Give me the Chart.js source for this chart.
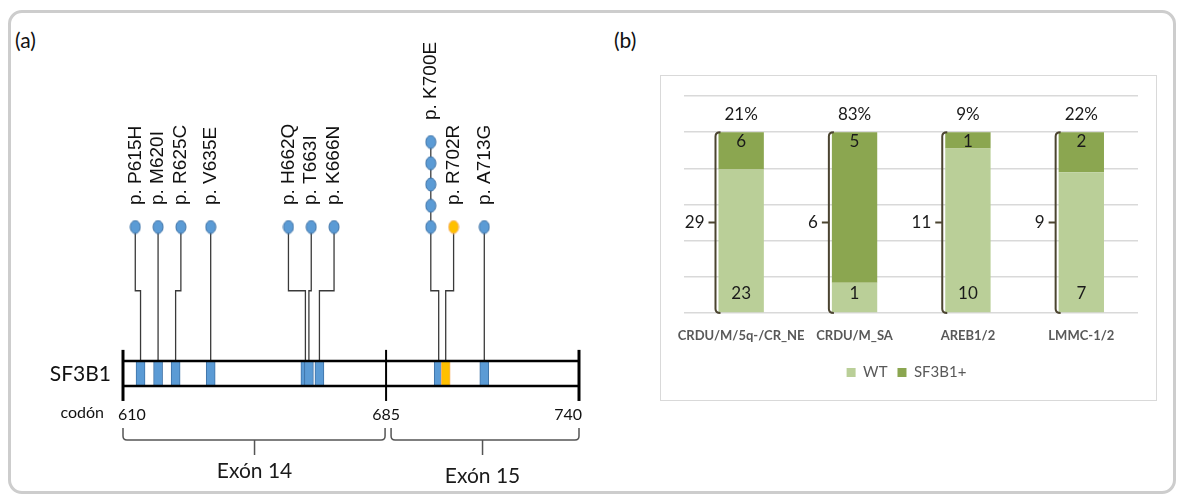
<!DOCTYPE html>
<html>
<head>
<meta charset="utf-8">
<script src="https://cdn.jsdelivr.net/npm/chart.js@4.4.1/dist/chart.umd.min.js"></script>
<style>
html,body{margin:0;padding:0;background:#fff;}
body{width:1183px;height:497px;position:relative;overflow:hidden;font-family:Lato,sans-serif;}
#frame{position:absolute;left:8px;top:10px;width:1168px;height:484px;border:3px solid #cdcdcd;border-radius:14px;box-sizing:border-box;}
.tag{position:absolute;font:21px Lato,sans-serif;color:#111;line-height:24px;}
#cA{position:absolute;left:0;top:0;}
#boxB{position:absolute;left:660px;top:75px;width:497px;height:326px;border:1px solid #d9d9d9;box-sizing:border-box;background:#fff;}
#cB{position:absolute;left:0;top:0;}
</style>
</head>
<body>
<div id="frame"></div>
<div class="tag" style="left:15px;top:28px">(a)</div>
<div class="tag" style="left:614px;top:28px">(b)</div>
<canvas id="cA" width="600" height="497"></canvas>
<div id="boxB"><canvas id="cB" width="495" height="324"></canvas></div>
<script>
// ---------------- data: panel (a) ----------------
const geneName = 'SF3B1';
const mutationLabels = ['p. P615H','p. M620I','p. R625C','p. V635E','p. H662Q','p. T663I','p. K666N','p. K700E','p. R702R','p. A713G'];
const mutationCodons = [615, 620, 625, 635, 662, 663, 666, 700, 702, 713];
const mutationCounts = [1, 1, 1, 1, 1, 1, 1, 5, 1, 1];
const mutationKinds  = ['missense','missense','missense','missense','missense','missense','missense','missense','silent','missense'];
const codonTicks = [610, 685, 740];
const codonAxisLabel = 'codón';
const exonLabels = ['Exón 14', 'Exón 15'];
const exonStarts = [610, 685];
const exonEnds   = [685, 740];

// ---------------- data: panel (b) ----------------
const groupLabels = ['CRDU/M/5q-/CR_NE', 'CRDU/M_SA', 'AREB1/2', 'LMMC-1/2'];
const wtCounts  = [23, 1, 10, 7];
const mutCounts = [6, 5, 1, 2];
const seriesNames = ['WT', 'SF3B1+'];

// ---------------- styles / layout ----------------
const KIND_FILL   = {missense:'#5B9BD5', silent:'#FFC000'};
const KIND_STROKE = {missense:'#3E72A6', silent:'#F6B26B'};
const LEVEL = {barTop:-5.3, barBottom:-6.48, elbow:-2.0};
const HEAD_GAP = 6.5; // minimum spacing of heads, codon units

function spreadPositions(xs, gap){
  let groups = xs.map(x => ({sum:x, n:1}));
  const start = g => g.sum / g.n - (g.n - 1) * gap / 2;
  let changed = true;
  while (changed){
    changed = false;
    for (let i = 0; i < groups.length - 1; i++){
      const a = groups[i], b = groups[i+1];
      if (start(a) + a.n * gap > start(b) + 1e-9){
        groups.splice(i, 2, {sum:a.sum + b.sum, n:a.n + b.n});
        changed = true; break;
      }
    }
  }
  const out = [];
  groups.forEach(g => { const s = start(g); for (let k = 0; k < g.n; k++) out.push(s + k * gap); });
  return out;
}

function ellipseImage(fill, stroke){
  const c = document.createElement('canvas');
  c.width = 12; c.height = 15;
  const g = c.getContext('2d');
  g.beginPath(); g.ellipse(6, 7.5, 5, 6.5, 0, 0, Math.PI * 2);
  g.fillStyle = fill; g.fill();
  g.lineWidth = 1; g.strokeStyle = stroke; g.stroke();
  return c;
}
const headImages = {missense: ellipseImage(KIND_FILL.missense, KIND_STROKE.missense),
                    silent: ellipseImage(KIND_FILL.silent, KIND_STROKE.silent)};

const headX = spreadPositions(mutationCodons, HEAD_GAP);

const connectorSets = mutationCodons.map((c, i) => ({
  type:'line',
  data:[{x:headX[i], y:mutationCounts[i]}, {x:headX[i], y:LEVEL.elbow}, {x:c, y:LEVEL.elbow}, {x:c, y:LEVEL.barTop}],
  borderColor:'#3a3a3a', borderWidth:1.3, pointRadius:0, tension:0, fill:false, showLine:true, order:3
}));

const boxSet = {
  type:'bar',
  data: mutationCodons.map(c => ({x:c, y:[LEVEL.barBottom, LEVEL.barTop]})),
  backgroundColor: mutationKinds.map(k => KIND_FILL[k]),
  borderColor: mutationKinds.map(k => KIND_STROKE[k]),
  borderWidth:1, borderSkipped:false, barThickness:9, order:2
};

const headPts = [], headStyles = [];
mutationCodons.forEach((c, i) => {
  for (let k = 1; k <= mutationCounts[i]; k++){
    headPts.push({x:headX[i], y:k});
    headStyles.push(headImages[mutationKinds[i]]);
  }
});
const headSet = {type:'scatter', data:headPts, pointStyle:headStyles, pointRadius:6, order:1};

const proteinPlugin = {
  id:'protein',
  afterDatasetsDraw(chart){
    const ctx = chart.ctx, xs = chart.scales.x, ys = chart.scales.y;
    const yTop = ys.getPixelForValue(LEVEL.barTop), yBot = ys.getPixelForValue(LEVEL.barBottom);
    const last = codonTicks.length - 1;
    const x0 = xs.getPixelForValue(codonTicks[0]), x1 = xs.getPixelForValue(codonTicks[last]);
    ctx.save();
    ctx.strokeStyle = '#000'; ctx.lineWidth = 2.5;
    ctx.beginPath(); ctx.moveTo(x0, yTop); ctx.lineTo(x1, yTop); ctx.moveTo(x0, yBot); ctx.lineTo(x1, yBot); ctx.stroke();
    codonTicks.forEach((t, i) => {
      const x = xs.getPixelForValue(t);
      ctx.lineWidth = (i === 0 || i === last) ? 3 : 2;
      ctx.beginPath(); ctx.moveTo(x, yTop - 11); ctx.lineTo(x, yBot + 15); ctx.stroke();
    });
    // tick labels
    ctx.fillStyle = '#111'; ctx.textBaseline = 'middle'; ctx.font = '16px Lato';
    codonTicks.forEach((t, i) => {
      const x = xs.getPixelForValue(t);
      ctx.textAlign = i === 0 ? 'left' : (i === last ? 'right' : 'center');
      ctx.fillText(String(t), i === 0 ? x - 5 : (i === last ? x + 3 : x), yBot + 29);
    });
    ctx.textAlign = 'right';
    ctx.fillText(codonAxisLabel, x0 - 19, yBot + 27);
    ctx.font = '21px Lato';
    ctx.fillText(geneName, x0 - 12, (yTop + yBot) / 2 + 1);
    // exon brackets
    ctx.strokeStyle = '#555'; ctx.lineWidth = 1.5;
    const bA = yBot + 42, bB = yBot + 54, bC = yBot + 69;
    exonStarts.forEach((s, i) => {
      const xa = xs.getPixelForValue(s) + (i > 0 ? 5 : 0);
      const xb = xs.getPixelForValue(exonEnds[i]) - (i === 0 ? 1 : 0);
      const xc = (xs.getPixelForValue(s) + xs.getPixelForValue(exonEnds[i])) / 2;
      ctx.beginPath();
      ctx.moveTo(xa, bA); ctx.lineTo(xa, bB - 4); ctx.quadraticCurveTo(xa, bB, xa + 4, bB);
      ctx.lineTo(xb - 4, bB); ctx.quadraticCurveTo(xb, bB, xb, bB - 4); ctx.lineTo(xb, bA);
      ctx.moveTo(xc, bB); ctx.lineTo(xc, bC);
      ctx.stroke();
      ctx.font = '21px Lato'; ctx.textAlign = 'center'; ctx.fillStyle = '#1a1a1a';
      ctx.fillText(exonLabels[i], xc, bC + 16 + i * 5);
    });
    // mutation labels
    ctx.font = '19px "Liberation Sans"'; ctx.fillStyle = '#111'; ctx.textAlign = 'left'; ctx.textBaseline = 'middle';
    mutationLabels.forEach((lab, i) => {
      const x = xs.getPixelForValue(headX[i]);
      const y = ys.getPixelForValue(mutationCounts[i]) - 22;
      ctx.save(); ctx.translate(x, y); ctx.rotate(-Math.PI / 2); ctx.fillText(lab, 0, 0); ctx.restore();
    });
    ctx.restore();
  }
};

new Chart(document.getElementById('cA'), {
  type:'scatter',
  data:{datasets:[...connectorSets, boxSet, headSet]},
  options:{
    responsive:false, animation:false,
    layout:{padding:{left:123, right:21, top:57, bottom:78.75}},
    plugins:{legend:{display:false}, tooltip:{enabled:false}},
    scales:{
      x:{type:'linear', min:codonTicks[0], max:codonTicks[codonTicks.length-1], display:false, offset:false, grid:{offset:false}},
      y:{type:'linear', min:-8, max:9, display:false}
    }
  },
  plugins:[proteinPlugin]
});

// ---------------- panel (b) ----------------
const totals = wtCounts.map((w, i) => w + mutCounts[i]);
const wtPct  = wtCounts.map((w, i) => w / totals[i] * 100);
const mutPct = mutCounts.map((m, i) => m / totals[i] * 100);

const annotB = {
  id:'annotB',
  afterDatasetsDraw(chart){
    const ctx = chart.ctx, ys = chart.scales.y;
    const meta = chart.getDatasetMeta(0);
    const yTop = ys.getPixelForValue(100), yBot = ys.getPixelForValue(0), yMid = (yTop + yBot) / 2;
    ctx.save();
    groupLabels.forEach((g, i) => {
      const el = meta.data[i];
      const cx = el.x, left = el.x - el.width / 2;
      ctx.fillStyle = '#1a1a1a'; ctx.font = '17px Lato'; ctx.textAlign = 'center'; ctx.textBaseline = 'middle';
      ctx.fillText(Math.round(mutCounts[i] / totals[i] * 100) + '%', cx, yTop - 18);
      ctx.fillText(String(mutCounts[i]), cx, yTop + 9);
      ctx.fillText(String(wtCounts[i]), cx, yBot - 19);
      const bx = left - 3;
      ctx.strokeStyle = '#4b4430'; ctx.lineWidth = 2;
      ctx.beginPath();
      ctx.moveTo(bx + 5, yTop); ctx.quadraticCurveTo(bx, yTop, bx, yTop + 4);
      ctx.lineTo(bx, yBot - 4); ctx.quadraticCurveTo(bx, yBot, bx + 5, yBot);
      ctx.moveTo(bx, yMid); ctx.lineTo(bx - 7, yMid);
      ctx.stroke();
      ctx.textAlign = 'right';
      ctx.fillText(String(totals[i]), bx - 11, yMid);
    });
    ctx.restore();
  }
};

new Chart(document.getElementById('cB'), {
  type:'bar',
  data:{
    labels:groupLabels,
    datasets:[
      {label:seriesNames[0], data:wtPct,  backgroundColor:'#BACF98', barPercentage:0.4, categoryPercentage:1},
      {label:seriesNames[1], data:mutPct, backgroundColor:'#8BA650', barPercentage:0.4, categoryPercentage:1}
    ]
  },
  options:{
    responsive:false, animation:false,
    layout:{padding:{left:14, right:18, top:20, bottom:10}},
    plugins:{
      legend:{position:'bottom', labels:{boxWidth:9, boxHeight:9, padding:10, color:'#595959', font:{family:'Lato', size:15}}},
      tooltip:{enabled:false}
    },
    scales:{
      x:{stacked:true, grid:{display:false, drawTicks:false}, border:{display:false},
         ticks:{color:'#595959', padding:15, maxRotation:0, minRotation:0, autoSkip:false, font:{family:'Lato', size:13, weight:'bold'}},
         afterFit(s){ s.height = 42; }},
      y:{stacked:true, min:0, max:120, ticks:{display:false, stepSize:20},
         grid:{color:'#d9d9d9', lineWidth:1.5, drawTicks:false}, border:{display:false},
         afterFit(s){ s.width = 0; }}
    }
  },
  plugins:[annotB]
});
</script>
</body>
</html>
